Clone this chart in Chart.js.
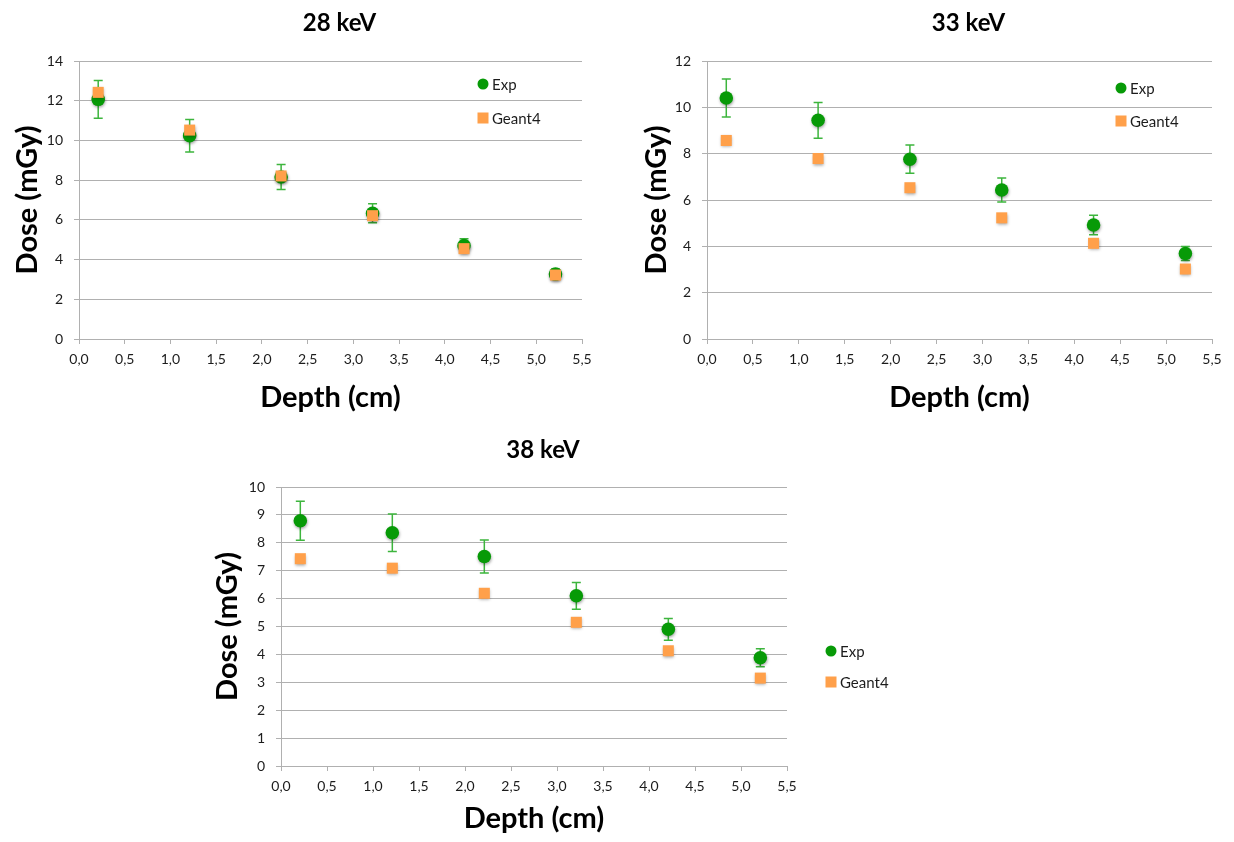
<!DOCTYPE html>
<html>
<head>
<meta charset="utf-8">
<script src="https://cdn.jsdelivr.net/npm/chart.js@4/dist/chart.umd.min.js"></script>
<style>
  html, body { margin: 0; padding: 0; background: #ffffff; }
  body { width: 1234px; height: 842px; position: relative; overflow: hidden; }
  canvas { position: absolute; display: block; }
</style>
</head>
<body>
<canvas id="c28" width="617" height="420" style="left:0px;top:0px"></canvas>
<canvas id="c33" width="614" height="420" style="left:620px;top:0px"></canvas>
<canvas id="c38" width="720" height="422" style="left:190px;top:420px"></canvas>
<script>
// Measurement depths (cm), shared by all three beam energies
const depth = [0.21, 1.21, 2.21, 3.21, 4.21, 5.21];
const xTickLabels = ['0,0', '0,5', '1,0', '1,5', '2,0', '2,5', '3,0', '3,5', '4,0', '4,5', '5,0', '5,5'];

// 28 keV
const exp28 = [12.07, 10.24, 8.16, 6.33, 4.70, 3.27];
const exp28Err = [0.95, 0.82, 0.63, 0.48, 0.35, 0.25];
const g4_28 = [12.42, 10.52, 8.21, 6.21, 4.55, 3.22];

// 33 keV
const exp33 = [10.40, 9.44, 7.76, 6.43, 4.92, 3.69];
const exp33Err = [0.82, 0.77, 0.61, 0.52, 0.42, 0.30];
const g4_33 = [8.57, 7.79, 6.53, 5.23, 4.13, 3.02];

// 38 keV
const exp38 = [8.79, 8.36, 7.51, 6.10, 4.90, 3.88];
const exp38Err = [0.70, 0.67, 0.59, 0.48, 0.39, 0.32];
const g4_38 = [7.43, 7.09, 6.19, 5.15, 4.13, 3.15];

const GREEN = '#079a07';
const GREEN_BAR = '#3db53d';
const ORANGE = '#ffa04a';
const GRID = '#b0b0b0';
const TEXT = '#1c1c1c';

Chart.defaults.font.family = 'Lato, "Open Sans", sans-serif';
Chart.defaults.color = TEXT;

// Vertical error bars with caps, drawn underneath the markers
const errorBars = {
  id: 'errorBars',
  beforeDatasetsDraw(chart) {
    const { ctx, scales: { x, y } } = chart;
    chart.data.datasets.forEach(ds => {
      if (!ds.errors) return;
      ctx.save();
      ctx.strokeStyle = ds.errorColor;
      ctx.lineWidth = 1.5;
      ds.data.forEach((p, i) => {
        const px = x.getPixelForValue(p.x);
        const yt = y.getPixelForValue(p.y + ds.errors[i]);
        const yb = y.getPixelForValue(p.y - ds.errors[i]);
        ctx.beginPath();
        ctx.moveTo(px, yt); ctx.lineTo(px, yb);
        ctx.moveTo(px - 4.5, yt); ctx.lineTo(px + 4.5, yt);
        ctx.moveTo(px - 4.5, yb); ctx.lineTo(px + 4.5, yb);
        ctx.stroke();
      });
      ctx.restore();
    });
  }
};

// Soft drop shadow under the markers
const markerShadow = {
  id: 'markerShadow',
  beforeDatasetDraw(chart) {
    const c = chart.ctx;
    c.save();
    c.shadowColor = 'rgba(0,0,0,0.35)';
    c.shadowBlur = 3;
    c.shadowOffsetX = 0.5;
    c.shadowOffsetY = 1.5;
  },
  afterDatasetDraw(chart) { chart.ctx.restore(); }
};

// Panel heading centred over the plot area
const panelTitle = {
  id: 'panelTitle',
  afterDraw(chart, args, opts) {
    const { ctx, chartArea } = chart;
    ctx.save();
    ctx.font = 'bold 24px Lato, "Open Sans", sans-serif';
    ctx.fillStyle = '#000';
    ctx.textAlign = 'center';
    ctx.textBaseline = 'alphabetic';
    ctx.fillText(opts.text, (chartArea.left + chartArea.right) / 2 + opts.dx, opts.baseline);
    ctx.restore();
  }
};

// Marker legend placed at a fixed spot in the panel
const markerLegend = {
  id: 'markerLegend',
  afterDraw(chart, args, opts) {
    const { ctx } = chart;
    ctx.save();
    ctx.font = '15px Lato, "Open Sans", sans-serif';
    ctx.textBaseline = 'middle';
    ctx.textAlign = 'left';
    chart.data.datasets.forEach((ds, i) => {
      const cx = opts.x, cy = opts.y + i * opts.gap;
      ctx.fillStyle = ds.backgroundColor;
      if (ds.pointStyle === 'rect') {
        ctx.fillRect(cx - 5.5, cy - 5.5, 11, 11);
      } else {
        ctx.beginPath();
        ctx.arc(cx, cy, 5.5, 0, Math.PI * 2);
        ctx.fill();
      }
      ctx.fillStyle = TEXT;
      ctx.fillText(ds.label, cx + 9, cy + 1);
    });
    ctx.restore();
  }
};

function points(ys) {
  return depth.map((d, i) => ({ x: d, y: ys[i] }));
}

function makePanel(canvasId, title, exp, expErr, g4, yMax, yStep, lay) {
  new Chart(document.getElementById(canvasId), {
    type: 'scatter',
    data: {
      datasets: [
        {
          label: 'Exp', data: points(exp), errors: expErr, errorColor: GREEN_BAR,
          pointStyle: 'circle', pointRadius: 6.8, pointHoverRadius: 6.8,
          backgroundColor: GREEN, borderColor: GREEN, borderWidth: 0, order: 1
        },
        {
          label: 'Geant4', data: points(g4),
          pointStyle: 'rect', pointRadius: 7.8, pointHoverRadius: 7.8,
          backgroundColor: ORANGE, borderColor: ORANGE, borderWidth: 0, order: 0
        }
      ]
    },
    options: {
      responsive: false,
      animation: false,
      events: [],
      layout: { padding: lay.pad },
      plugins: {
        legend: { display: false },
        tooltip: { enabled: false },
        panelTitle: { text: title, dx: lay.titleDx, baseline: lay.titleBase },
        markerLegend: lay.legend
      },
      scales: {
        x: {
          type: 'linear', min: 0, max: 5.5,
          afterFit(scale) { scale.height = lay.xH; },
          ticks: {
            stepSize: 0.5, padding: 7, color: TEXT,
            font: { size: 14 },
            callback: (v) => xTickLabels[Math.round(v / 0.5)]
          },
          grid: { drawOnChartArea: false, drawTicks: true, tickLength: 5, color: GRID, lineWidth: 1 },
          border: { display: true, color: GRID, width: 1 },
          title: {
            display: true, text: 'Depth (cm)', color: '#000',
            font: { size: 29, weight: 'bold' }, padding: { top: 0, bottom: lay.xTitlePad }
          }
        },
        y: {
          type: 'linear', min: 0, max: yMax,
          afterFit(scale) { scale.width = lay.yW; },
          ticks: { stepSize: yStep, padding: 11, color: TEXT, font: { size: 14 } },
          grid: { color: GRID, lineWidth: 1, tickLength: 5 },
          border: { display: true, color: GRID, width: 1 },
          title: {
            display: true, text: 'Dose (mGy)', color: '#000',
            font: { size: 29, weight: 'bold' }, padding: { top: lay.yTitlePad, bottom: 0 }
          }
        }
      }
    },
    plugins: [errorBars, markerShadow, panelTitle, markerLegend]
  });
}

makePanel('c28', '28 keV', exp28, exp28Err, g4_28, 14, 2, {
  pad: { top: 61, right: 35, bottom: 0, left: 0 },
  yW: 79, xH: 81, yTitlePad: 10, xTitlePad: 5,
  titleDx: 9, titleBase: 31,
  legend: { x: 483, y: 84, gap: 34 }
});

makePanel('c33', '33 keV', exp33, exp33Err, g4_33, 12, 2, {
  pad: { top: 61, right: 22, bottom: 0, left: 0 },
  yW: 87, xH: 81, yTitlePad: 19, xTitlePad: 5,
  titleDx: 9, titleBase: 31,
  legend: { x: 501, y: 88, gap: 33 }
});

makePanel('c38', '38 keV', exp38, exp38Err, g4_38, 10, 1, {
  pad: { top: 67, right: 123, bottom: 0, left: 0 },
  yW: 91, xH: 76, yTitlePad: 20, xTitlePad: 6,
  titleDx: 9, titleBase: 38,
  legend: { x: 641, y: 231, gap: 31 }
});
</script>
</body>
</html>
